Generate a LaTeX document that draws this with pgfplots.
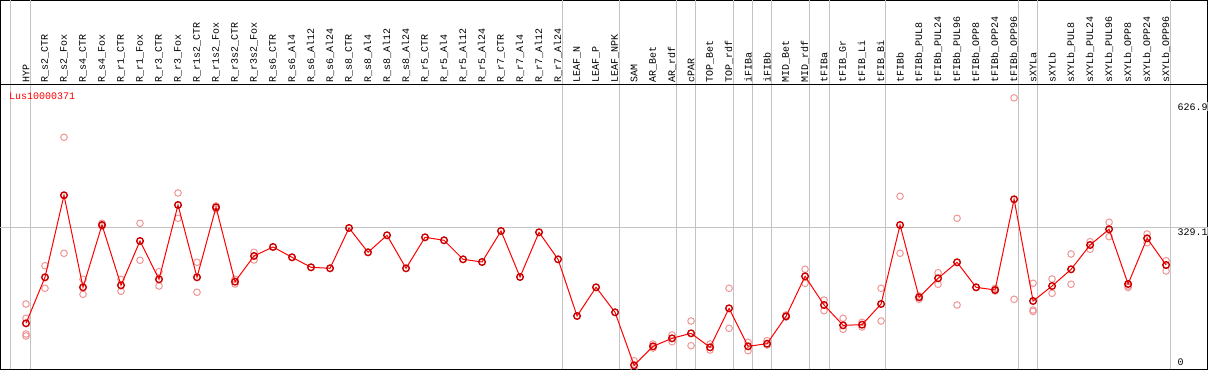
\documentclass[border=0pt]{standalone}
\usepackage{pgfplots}
\pgfplotsset{compat=1.18}
\usepackage{fontspec}
\setmainfont{Liberation Sans}
\setmonofont{Liberation Mono}
\definecolor{meanred}{RGB}{200,0,0}
\definecolor{linered}{RGB}{255,0,0}
\definecolor{reppink}{RGB}{240,150,150}
\definecolor{gridgray}{RGB}{195,195,195}
\tikzset{lbl/.style={rotate=90, anchor=west, inner sep=0pt, font=\ttfamily\fontsize{10}{10}\selectfont}}
\newcommand{\lab}[2]{\node[lbl] at (axis cs:#1,661) {#2};}
\begin{document}
\begin{tikzpicture}
\begin{axis}[
  scale only axis,
  width=1207pt, height=369pt,
  xmin=-1.342, xmax=62.18,
  ymin=2.3, ymax=850.8,
  xtick=\empty, ytick=\empty,
  axis line style={black, line width=1pt},
  extra x ticks={-0.79,0.26,28.21,31.21,34.26,35.26,37.21,38.21,39.21,41.21,42.26,45.21,52.21,53.21,60.21},
  extra x tick labels={},
  extra y ticks={329.1},
  extra y tick labels={},
  extra tick style={grid=major, major tick length=0pt, major grid style={gridgray, line width=1pt}},
  clip=true,
  clip marker paths=true,
]
% replicates
\addplot[only marks, mark=o, mark size=3.3pt, mark options={reppink, line width=1pt}] coordinates {
(0,152.9) (0,120.0) (0,83.9) (0,79.3)
(1,241.0) (1,189.0)
(2,536.2) (2,269.5)
(3,209.7) (3,175.2)
(4,338.5) (4,332.3)
(5,209.7) (5,182.1)
(6,338.5) (6,253.4)
(7,227.2) (7,194.3)
(8,408.2) (8,350.0)
(9,248.8) (9,179.8)
(10,378.3) (10,371.4)
(11,209.7) (11,198.9)
(12,271.8) (12,254.1)
(32,22.5) (32,4.0)
(33,60.9) (33,51.7)
(34,81.6) (34,66.2)
(35,113.8) (35,57.0)
(36,60.9) (36,47.1)
(37,189.0) (37,97.0)
(38,64.8) (38,45.5)
(39,68.5) (39,58.6)
(40,127.6) (40,123.0)
(41,232.7) (41,200.5)
(42,162.1) (42,137.5)
(43,120.0) (43,94.7)
(44,110.8) (44,100.0)
(45,189.0) (45,113.8)
(46,400.6) (46,269.5)
(47,171.3) (47,163.7)
(48,224.9) (48,198.2)
(49,350.0) (49,150.6)
(50,191.3)
(51,189.0) (51,182.8)
(52,626.9) (52,163.7)
(53,200.5) (53,139.1) (53,135.7)
(54,210.4) (54,177.5)
(55,267.9) (55,198.2)
(56,296.2) (56,278.7)
(57,340.8) (57,307.7)
(58,194.3) (58,190.9)
(59,313.9) (59,293.9)
(60,252.5) (60,228.8)
};
% means
\addplot[linered, line width=1pt, mark=o, mark size=3.3pt, mark options={meanred, line width=1.4pt}] coordinates {
(0,108.5) (1,214.3) (2,402.9) (3,191.3) (4,334.6) (5,195.9) (6,297.8) (7,209.7)
(8,380.6) (9,214.3) (10,375.3) (11,204.2) (12,263.3) (13,284.0) (14,260.3) (15,237.3)
(16,235.0) (17,327.7) (18,271.8) (19,310.9) (20,235.0) (21,306.3) (22,299.4) (23,255.7)
(24,249.5) (25,320.8) (26,215.0) (27,317.8) (28,255.7) (29,125.3) (30,191.3) (31,133.8)
(32,12.0) (33,55.6) (34,74.0) (35,85.5) (36,53.3) (37,143.0) (38,55.6) (39,61.6)
(40,124.6) (41,216.6) (42,150.6) (43,103.9) (44,105.3) (45,152.9) (46,334.6) (47,168.3)
(48,212.0) (49,248.8) (50,191.3) (51,185.1) (52,393.7) (53,159.8) (54,194.3) (55,232.7)
(56,288.6) (57,324.7) (58,198.9) (59,304.0) (60,242.6)
};
% separator between labels and plot
\draw[black, line width=1pt] (axis cs:-1.342,656.5) -- (axis cs:62.18,656.5);
% category labels
\lab{0}{HYP}
\lab{1}{R\_s2\_CTR}
\lab{2}{R\_s2\_Fox}
\lab{3}{R\_s4\_CTR}
\lab{4}{R\_s4\_Fox}
\lab{5}{R\_r1\_CTR}
\lab{6}{R\_r1\_Fox}
\lab{7}{R\_r3\_CTR}
\lab{8}{R\_r3\_Fox}
\lab{9}{R\_r1s2\_CTR}
\lab{10}{R\_r1s2\_Fox}
\lab{11}{R\_r3s2\_CTR}
\lab{12}{R\_r3s2\_Fox}
\lab{13}{R\_s6\_CTR}
\lab{14}{R\_s6\_Al4}
\lab{15}{R\_s6\_Al12}
\lab{16}{R\_s6\_Al24}
\lab{17}{R\_s8\_CTR}
\lab{18}{R\_s8\_Al4}
\lab{19}{R\_s8\_Al12}
\lab{20}{R\_s8\_Al24}
\lab{21}{R\_r5\_CTR}
\lab{22}{R\_r5\_Al4}
\lab{23}{R\_r5\_Al12}
\lab{24}{R\_r5\_Al24}
\lab{25}{R\_r7\_CTR}
\lab{26}{R\_r7\_Al4}
\lab{27}{R\_r7\_Al12}
\lab{28}{R\_r7\_Al24}
\lab{29}{LEAF\_N}
\lab{30}{LEAF\_P}
\lab{31}{LEAF\_NPK}
\lab{32}{SAM}
\lab{33}{AR\_Bet}
\lab{34}{AR\_rdf}
\lab{35}{cPAR}
\lab{36}{TOP\_Bet}
\lab{37}{TOP\_rdf}
\lab{38}{iFIBa}
\lab{39}{iFIBb}
\lab{40}{MID\_Bet}
\lab{41}{MID\_rdf}
\lab{42}{tFIBa}
\lab{43}{tFIB\_Gr}
\lab{44}{tFIB\_Li}
\lab{45}{tFIB\_Bi}
\lab{46}{tFIBb}
\lab{47}{tFIBb\_PUL8}
\lab{48}{tFIBb\_PUL24}
\lab{49}{tFIBb\_PUL96}
\lab{50}{tFIBb\_OPP8}
\lab{51}{tFIBb\_OPP24}
\lab{52}{tFIBb\_OPP96}
\lab{53}{sXYLa}
\lab{54}{sXYLb}
\lab{55}{sXYLb\_PUL8}
\lab{56}{sXYLb\_PUL24}
\lab{57}{sXYLb\_PUL96}
\lab{58}{sXYLb\_OPP8}
\lab{59}{sXYLb\_OPP24}
\lab{60}{sXYLb\_OPP96}
% gene name and value labels
\node[anchor=north west, inner sep=0pt, text=red, font=\ttfamily\fontsize{10}{10}\selectfont] at (axis cs:-0.895,638.1) {Lus10000371};
\node[anchor=north west, inner sep=1pt, fill=white, font=\ttfamily\fontsize{10}{10}\selectfont] at (axis cs:60.55,617) {626.9};
\node[anchor=north west, inner sep=1pt, fill=white, font=\ttfamily\fontsize{10}{10}\selectfont] at (axis cs:60.55,329.1) {329.1};
\node[anchor=north west, inner sep=1pt, fill=white, font=\ttfamily\fontsize{10}{10}\selectfont] at (axis cs:60.55,30) {0};
\end{axis}
\pgfresetboundingbox
\path[use as bounding box] ([shift={(-0.5pt,-0.5pt)}]current axis.south west) rectangle ([shift={(1.5pt,0.5pt)}]current axis.north east);
\end{tikzpicture}
\end{document}
